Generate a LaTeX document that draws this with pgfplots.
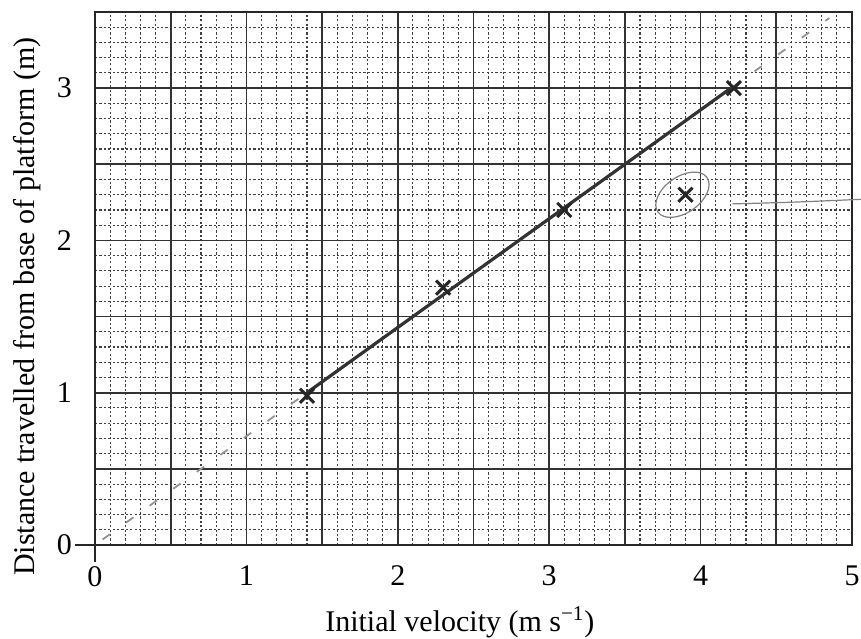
\documentclass[border=0pt]{standalone}
\usepackage{fontspec}
\setmainfont{Liberation Serif}
\usepackage{pgfplots}
\pgfplotsset{compat=1.18}
\begin{document}
\begin{tikzpicture}
\begin{axis}[
  scale only axis,
  width=378.5pt, height=266.5pt,
  xmin=0, xmax=5, ymin=0, ymax=3.5,
  xtick={0,0.5,...,5}, xticklabels={0,,1,,2,,3,,4,,5},
  ytick={0,0.5,...,3.5}, yticklabels={0,,1,,2,,3,},
  minor x tick num=4, minor y tick num=4,
  grid=both,
  major grid style={black!80, line width=0.85pt},
  minor grid style={black!75, line width=0.55pt, dash pattern=on 1.1pt off 1.1pt},
  major tick length=0pt, minor tick length=0pt,
  axis line style={black!85, line width=0.9pt},
  tick label style={font=\fontsize{15}{18}\selectfont},
  xticklabel shift=7pt, yticklabel shift=8pt,
  xlabel={Initial velocity (m s\textsuperscript{−1})},
  ylabel={Distance travelled from base of platform (m)},
  every axis x label/.style={at={(axis description cs:0.482,-0.145)}, anchor=center, font=\fontsize{15}{18}\selectfont},
  every axis y label/.style={at={(axis description cs:-0.09,0.447)}, rotate=90, anchor=center, font=\fontsize{15}{18}\selectfont},
  clip=false,
]
% extended axis stubs
\draw[black!85, line width=0.9pt] (axis cs:-0.13,0) -- (axis cs:0,0);
\draw[black!85, line width=0.9pt] (axis cs:0,0) -- (axis cs:0,-0.11);
% dashed extrapolation
\addplot[gray!85, line width=0.9pt, dash pattern=on 4.5pt off 10pt] coordinates {(0.05,0.036) (1.4,1.0)};
\addplot[gray!85, line width=0.9pt, dash pattern=on 4.5pt off 10pt] coordinates {(4.2,3.0) (4.85,3.46)};
% best-fit line
\addplot[black!80, line width=1.6pt] coordinates {(1.4,1.0) (4.2,3.0)};
% data points
\addplot[only marks, mark=x, mark size=5pt, mark options={black!85, line width=1.5pt}] coordinates {
(1.4,0.98) (2.3,1.69) (3.1,2.2) (3.9,2.3) (4.22,3.0)};
% circled anomaly
\draw[gray, line width=0.6pt, rotate around={35:(axis cs:3.88,2.3)}] (axis cs:3.88,2.3) ellipse [x radius=15pt, y radius=9pt];
\draw[gray, line width=0.6pt] (axis cs:4.21,2.24) .. controls (axis cs:4.6,2.25) .. (axis cs:5.06,2.27);
\coordinate (SW) at (rel axis cs:0,0);
\coordinate (NE) at (rel axis cs:1,1);
\end{axis}
\pgfresetboundingbox
\path ([xshift=-47.5pt,yshift=-47pt]SW) rectangle ([xshift=4.5pt,yshift=6pt]NE);
\end{tikzpicture}
\end{document}
